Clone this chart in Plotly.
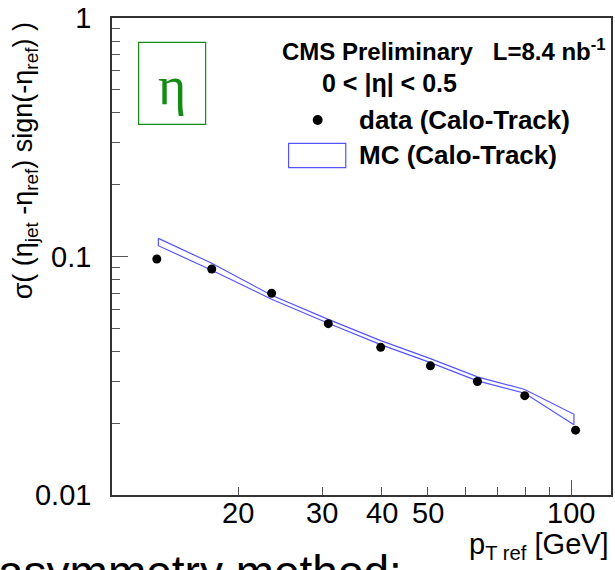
import math
import plotly.graph_objects as go

# ---------------- data ----------------
pt_data = [13.5, 17.6, 23.5, 30.9, 39.8, 50.6, 63.5, 79.8, 102.0]
sigma_data = [0.0976, 0.0886, 0.0701, 0.0523, 0.0416, 0.0348, 0.0299, 0.0261, 0.0187]

pt_mc = [13.6, 17.6, 23.5, 30.9, 39.8, 50.6, 63.5, 79.8, 101.2]
mc_upper = [0.1191, 0.0937, 0.0688, 0.0545, 0.0444, 0.0373, 0.0313, 0.0277, 0.0218]
mc_lower = [0.1110, 0.0876, 0.0662, 0.0525, 0.0427, 0.0359, 0.0301, 0.0267, 0.0197]

x_major_ticks = [20, 30, 40, 50, 100]
x_major_text = ["20", "30", "40", "50", "100"]
x_minor_ticks = [60, 70, 80, 90]
y_major_ticks = [0.01, 0.1, 1]
y_major_text = ["0.01", "0.1", "1"]
y_minor_ticks = [k * 0.01 for k in range(2, 10)] + [k * 0.1 for k in range(2, 10)]

# ---------------- geometry ----------------
W, H = 615, 570
L, R, T, B = 112, 2, 18, 75
PW, PH = W - L - R, H - T - B


def px(x):
    return (x - L) / PW


def py(y):
    return (H - B - y) / PH


FONT = "Liberation Sans, Arial, sans-serif"
BLUE = "rgb(85,85,255)"
GREEN = "rgb(20,140,20)"
AXC = "#333333"
TICKC = "#555555"

fig = go.Figure()

# MC band outline
band_x = pt_mc + pt_mc[::-1] + [pt_mc[0]]
band_y = mc_upper + mc_lower[::-1] + [mc_upper[0]]
fig.add_trace(go.Scatter(x=band_x, y=band_y, mode="lines",
                         line=dict(color=BLUE, width=1.2), hoverinfo="skip",
                         showlegend=False))

# data points
fig.add_trace(go.Scatter(x=pt_data, y=sigma_data, mode="markers",
                         marker=dict(color="black", size=9),
                         showlegend=False))

# invisible trace for the overlay axis (long major tick at 100)
fig.add_trace(go.Scatter(x=[pt_data[-1]], y=[sigma_data[-1]], xaxis="x2", yaxis="y",
                         mode="markers", marker=dict(opacity=0), hoverinfo="skip",
                         showlegend=False))

xr = [1.0363, 2.0829]
yr = [-2, 0]

fig.update_layout(
    width=W, height=H,
    margin=dict(l=L, r=R, t=T, b=B),
    paper_bgcolor="white", plot_bgcolor="white",
    showlegend=False,
    xaxis=dict(type="log", range=xr, showgrid=False, zeroline=False,
               showline=True, mirror=True, linecolor=AXC, linewidth=1.5,
               tickmode="array", tickvals=x_major_ticks, ticktext=x_major_text,
               showticklabels=False,
               ticks="inside", ticklen=8, tickcolor=TICKC, tickwidth=1,
               minor=dict(tickmode="array", tickvals=x_minor_ticks, ticks="inside",
                          ticklen=8, tickcolor=TICKC, tickwidth=1, showgrid=False)),
    xaxis2=dict(type="log", range=xr, overlaying="x", showgrid=False, zeroline=False,
                showline=False, tickmode="array", tickvals=[100], ticktext=[""],
                ticks="inside", ticklen=15, tickcolor=TICKC, tickwidth=1,
                anchor="y", side="bottom"),
    yaxis=dict(type="log", range=yr, showgrid=False, zeroline=False,
               showline=True, mirror=True, linecolor=AXC, linewidth=1.5,
               tickmode="array", tickvals=y_major_ticks, ticktext=y_major_text,
               ticks="inside", ticklen=16, tickcolor=TICKC, tickwidth=1,
               tickfont=dict(family=FONT, size=29, color="black"),
               ticklabelstandoff=13,
               minor=dict(tickmode="array", tickvals=y_minor_ticks, ticks="inside",
                          ticklen=8, tickcolor=TICKC, tickwidth=1, showgrid=False)),
)

ann = []
# x tick labels (placed on the x scale)
for v, t in zip(x_major_ticks, x_major_text):
    ann.append(dict(xref="x", yref="paper", x=math.log10(v), y=py(513),
                    text=t, showarrow=False, xanchor="center", yanchor="middle",
                    font=dict(family=FONT, size=29, color="black")))
# y-axis title
ann.append(dict(xref="paper", yref="paper", x=px(25), y=py(161),
                text="σ( (η<sub>jet</sub> -η<sub>ref</sub>) sign(-η<sub>ref</sub>) )",
                textangle=-90, showarrow=False, xanchor="center", yanchor="middle",
                font=dict(family=FONT, size=27, color="black")))
# x-axis title
ann.append(dict(xref="paper", yref="paper", x=px(613), y=py(546),
                text="p<sub>T ref</sub> [GeV]", showarrow=False,
                xanchor="right", yanchor="middle",
                font=dict(family=FONT, size=29, color="black")))
# legend texts
ann.append(dict(xref="paper", yref="paper", x=px(281), y=py(50),
                text="<b>CMS Preliminary&nbsp;&nbsp;&nbsp;L=8.4 nb<sup>-1</sup></b>",
                showarrow=False, xanchor="left", yanchor="middle",
                font=dict(family=FONT, size=24, color="black")))
ann.append(dict(xref="paper", yref="paper", x=px(321), y=py(83),
                text="<b>0 &lt; |η| &lt; 0.5</b>",
                showarrow=False, xanchor="left", yanchor="middle",
                font=dict(family=FONT, size=25, color="black")))
ann.append(dict(xref="paper", yref="paper", x=px(358), y=py(120),
                text="<b>data (Calo-Track)</b>",
                showarrow=False, xanchor="left", yanchor="middle",
                font=dict(family=FONT, size=26, color="black")))
ann.append(dict(xref="paper", yref="paper", x=px(358), y=py(155),
                text="<b>MC (Calo-Track)</b>",
                showarrow=False, xanchor="left", yanchor="middle",
                font=dict(family=FONT, size=26, color="black")))
# eta label in box
ann.append(dict(xref="paper", yref="paper", x=px(172), y=py(86),
                text="η", showarrow=False, xanchor="center", yanchor="middle",
                font=dict(family="Liberation Serif, Times New Roman, serif", size=54, color=GREEN)))
# cut-off slide text at the bottom
ann.append(dict(xref="paper", yref="paper", x=px(-4), y=py(572),
                text="asymmetry method:", showarrow=False, xanchor="left", yanchor="middle",
                font=dict(family=FONT, size=46, color="black")))

fig.update_layout(annotations=ann)

shapes = []
# green box
shapes.append(dict(type="rect", xref="paper", yref="paper",
                   x0=px(138.7), x1=px(206), y0=py(124.3), y1=py(42.3),
                   line=dict(color=GREEN, width=1.2)))
# MC legend box
shapes.append(dict(type="rect", xref="paper", yref="paper",
                   x0=px(289.3), x1=px(346.7), y0=py(167.7), y1=py(143.3),
                   line=dict(color=BLUE, width=1.2)))
# data legend dot
shapes.append(dict(type="circle", xref="paper", yref="paper",
                   x0=px(313.5), x1=px(323.5), y0=py(125), y1=py(115),
                   fillcolor="black", line=dict(color="black", width=0)))
fig.update_layout(shapes=shapes)

fig.write_html("out.html")
